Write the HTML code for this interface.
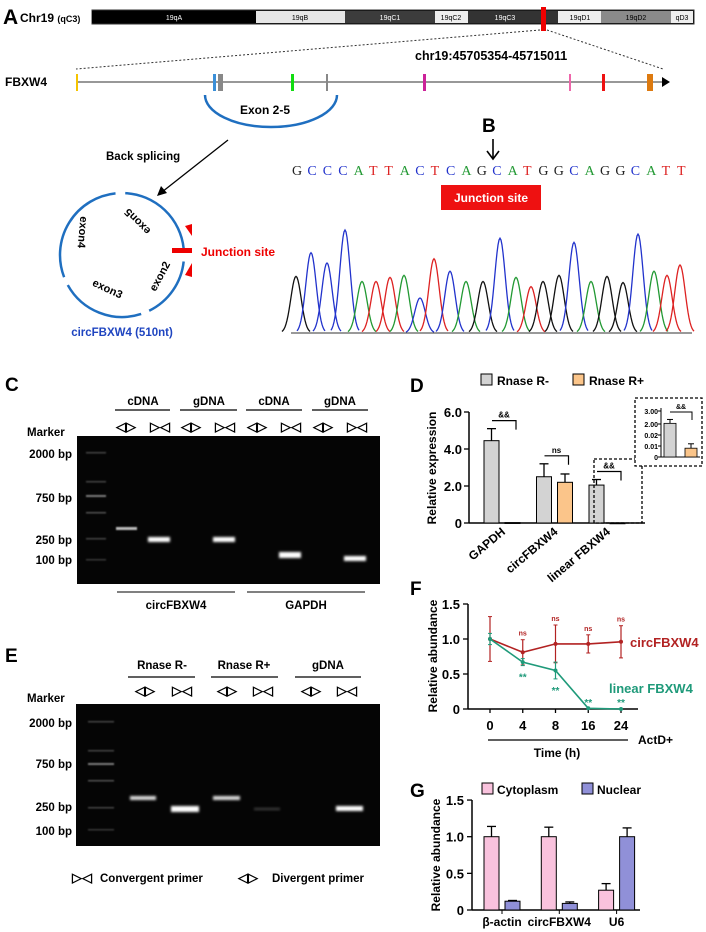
<!DOCTYPE html>
<html><head><meta charset="utf-8"><style>
html,body{margin:0;padding:0;background:#fff}
svg{display:block;font-family:"Liberation Sans",Arial,sans-serif}
text{font-weight:bold}
</style></head><body>
<svg id="fig" width="706" height="932" viewBox="0 0 706 932" xmlns="http://www.w3.org/2000/svg">
<defs>
<filter id="blur1" x="-50%" y="-200%" width="200%" height="500%"><feGaussianBlur stdDeviation="1.2"/></filter>
<filter id="blur2" x="-50%" y="-200%" width="200%" height="500%"><feGaussianBlur stdDeviation="0.8"/></filter>
</defs>

<!-- Panel A -->
<g>
<text x="3" y="24" font-size="21">A</text>
<text x="20" y="22" font-size="12">Chr19 <tspan font-size="9">(qC3)</tspan></text>
<g font-size="7" font-weight="normal">
<rect x="92" y="10" width="602" height="14" fill="#000" stroke="#333"/>
<rect x="92" y="11" width="164" height="12" fill="#000"/><text x="174" y="20" fill="#fff" text-anchor="middle" style="font-weight:normal">19qA</text>
<rect x="256" y="11" width="89" height="12" fill="#e6e6e6"/><text x="300" y="20" text-anchor="middle" style="font-weight:normal">19qB</text>
<rect x="345" y="11" width="90" height="12" fill="#3c3c3c"/><text x="390" y="20" fill="#fff" text-anchor="middle" style="font-weight:normal">19qC1</text>
<rect x="435" y="11" width="33" height="12" fill="#eee"/><text x="451" y="20" text-anchor="middle" style="font-weight:normal">19qC2</text>
<rect x="468" y="11" width="90" height="12" fill="#333"/><text x="505" y="20" fill="#fff" text-anchor="middle" style="font-weight:normal">19qC3</text>
<rect x="558" y="11" width="43" height="12" fill="#eee"/><text x="580" y="20" text-anchor="middle" style="font-weight:normal">19qD1</text>
<rect x="601" y="11" width="70" height="12" fill="#8a8a8a"/><text x="636" y="20" text-anchor="middle" style="font-weight:normal">19qD2</text>
<rect x="671" y="11" width="22" height="12" fill="#eee"/><text x="682" y="20" text-anchor="middle" style="font-weight:normal">qD3</text>
<rect x="541" y="7" width="5" height="24" fill="#e00"/>
</g>
<line x1="540" y1="30" x2="76" y2="69" stroke="#333" stroke-dasharray="2,2"/>
<line x1="547" y1="30" x2="663" y2="69" stroke="#333" stroke-dasharray="2,2"/>
<text x="415" y="60" font-size="12.5">chr19:45705354-45715011</text>
<text x="5" y="86" font-size="12">FBXW4</text>
<line x1="76" y1="82" x2="663" y2="82" stroke="#777" stroke-width="1.5"/>
<polygon points="662,77 670,82 662,87" fill="#000"/>
<g>
<rect x="76" y="74" width="2" height="17" fill="#f5c400"/>
<rect x="213" y="74" width="3" height="17" fill="#3a8fd8"/>
<rect x="218" y="74" width="5" height="17" fill="#888"/>
<rect x="291" y="74" width="3" height="17" fill="#11dd11"/>
<rect x="326" y="74" width="2" height="17" fill="#888"/>
<rect x="423" y="74" width="3" height="17" fill="#cc2299"/>
<rect x="569" y="74" width="2" height="17" fill="#ee66aa"/>
<rect x="602" y="74" width="3" height="17" fill="#ee1111"/>
<rect x="647" y="74" width="6" height="17" fill="#dd7a10"/>
</g>
<path d="M205,95 A66,32 0 0 0 337,95" fill="none" stroke="#1f6fc0" stroke-width="2.5"/>
<text x="265" y="114" font-size="12" text-anchor="middle">Exon 2-5</text>
</g>

<!-- circle -->
<g>
<text x="106" y="160" font-size="11.5">Back splicing</text>
<line x1="228" y1="140" x2="162" y2="192" stroke="#000" stroke-width="1.3"/>
<polygon points="157,196 161,186 167,193" fill="#000"/>
<g id="circArcs"></g>
<rect x="172" y="248" width="20" height="5" fill="#e00"/>
<polygon points="185,226 192,224 192,236" fill="#e00"/>
<polygon points="185,275 192,263 192,277" fill="#e00"/>
<text x="201" y="256" font-size="12" fill="#e00">Junction site</text>
<text font-size="11" transform="translate(140,219) rotate(-135)" text-anchor="middle">exon5</text>
<text font-size="11" transform="translate(79,232) rotate(95)" text-anchor="middle">exon4</text>
<text font-size="11" transform="translate(106,292) rotate(25)" text-anchor="middle">exon3</text>
<text font-size="11" transform="translate(163,278) rotate(-62)" text-anchor="middle">exon2</text>
<text x="122" y="336" font-size="11.5" fill="#1f45c0" text-anchor="middle">circFBXW4 (510nt)</text>
</g>

<!-- Panel B -->
<g>
<text x="482" y="132" font-size="19">B</text>
<line x1="493" y1="139" x2="493" y2="158" stroke="#000" stroke-width="1.6"/>
<path d="M487,151 L493,159 L499,151" fill="none" stroke="#000" stroke-width="1.6"/>
<text id="seq" y="175" font-size="14" style="font-family:'Liberation Serif',serif;font-weight:normal"></text>
<rect x="441" y="185" width="100" height="25" fill="#ee1111"/>
<text x="491" y="202" font-size="12" fill="#fff" text-anchor="middle">Junction site</text>
<g id="chromat"></g>
</g>

<!-- Panel C -->
<g>
<text x="5" y="391" font-size="19">C</text>
<g font-size="11.5" text-anchor="middle">
<text x="143" y="405">cDNA</text><text x="209" y="405">gDNA</text><text x="274" y="405">cDNA</text><text x="340" y="405">gDNA</text>
</g>
<g stroke="#000" stroke-width="1.2">
<line x1="115" y1="410" x2="170" y2="410"/><line x1="180" y1="410" x2="237" y2="410"/><line x1="246" y1="410" x2="302" y2="410"/><line x1="312" y1="410" x2="368" y2="410"/>
</g>
<g font-size="13" text-anchor="middle">
<text x="126" y="431">◁▷</text><text x="160" y="431">▷◁</text><text x="191" y="431">◁▷</text><text x="225" y="431">▷◁</text><text x="257" y="431">◁▷</text><text x="291" y="431">▷◁</text><text x="323" y="431">◁▷</text><text x="357" y="431">▷◁</text>
</g>
<text x="27" y="436" font-size="11.5">Marker</text>
<g font-size="11.5" text-anchor="end">
<text x="72" y="458">2000 bp</text><text x="72" y="502">750 bp</text><text x="72" y="544">250 bp</text><text x="72" y="564">100 bp</text>
</g>
<rect x="77" y="436" width="303" height="148" fill="#050505"/>
<g fill="#888" filter="url(#blur2)">
<rect x="86" y="452" width="20" height="1.5" opacity=".5"/><rect x="86" y="481" width="20" height="1.5" opacity=".5"/><rect x="86" y="495" width="20" height="2" opacity=".9"/><rect x="86" y="512" width="20" height="1.5" opacity=".6"/><rect x="86" y="538" width="20" height="1.5" opacity=".5"/><rect x="86" y="559" width="20" height="1.5" opacity=".4"/>
</g>
<g fill="#fff">
<rect x="116" y="527" width="21" height="3" fill="#bbb" filter="url(#blur2)"/>
<rect x="148" y="537" width="22" height="5" filter="url(#blur1)"/>
<rect x="213" y="537" width="22" height="5" filter="url(#blur1)"/>
<rect x="279" y="552" width="22" height="6" filter="url(#blur1)"/>
<rect x="344" y="556" width="22" height="5" filter="url(#blur1)"/>
</g>
<line x1="117" y1="592" x2="235" y2="592" stroke="#000"/><line x1="247" y1="592" x2="365" y2="592" stroke="#000"/>
<text x="176" y="609" font-size="11.5" text-anchor="middle">circFBXW4</text>
<text x="306" y="609" font-size="11.5" text-anchor="middle">GAPDH</text>
</g>

<!-- Panel E -->
<g>
<text x="5" y="662" font-size="19">E</text>
<g font-size="11.5" text-anchor="middle">
<text x="162" y="669">Rnase R-</text><text x="244" y="669">Rnase R+</text><text x="328" y="669">gDNA</text>
</g>
<g stroke="#000" stroke-width="1.2">
<line x1="128" y1="677" x2="195" y2="677"/><line x1="211" y1="677" x2="278" y2="677"/><line x1="295" y1="677" x2="361" y2="677"/>
</g>
<g font-size="13" text-anchor="middle">
<text x="145" y="695">◁▷</text><text x="182" y="695">▷◁</text><text x="227" y="695">◁▷</text><text x="263" y="695">▷◁</text><text x="311" y="695">◁▷</text><text x="347" y="695">▷◁</text>
</g>
<text x="27" y="702" font-size="11.5">Marker</text>
<g font-size="11.5" text-anchor="end">
<text x="72" y="727">2000 bp</text><text x="72" y="768">750 bp</text><text x="72" y="811">250 bp</text><text x="72" y="835">100 bp</text>
</g>
<rect x="76" y="704" width="304" height="142" fill="#050505"/>
<g fill="#888" filter="url(#blur2)">
<rect x="88" y="721" width="26" height="1.5" opacity=".5"/><rect x="88" y="750" width="26" height="1.5" opacity=".5"/><rect x="88" y="763" width="26" height="2" opacity=".9"/><rect x="88" y="780" width="26" height="1.5" opacity=".6"/><rect x="88" y="807" width="26" height="1.5" opacity=".5"/><rect x="88" y="829" width="26" height="1.5" opacity=".4"/>
</g>
<g fill="#fff">
<rect x="130" y="796" width="26" height="4" fill="#ddd" filter="url(#blur1)"/>
<rect x="171" y="806" width="28" height="6" filter="url(#blur1)"/>
<rect x="213" y="796" width="27" height="4" fill="#ddd" filter="url(#blur1)"/>
<rect x="254" y="808" width="26" height="2" fill="#444" filter="url(#blur1)"/>
<rect x="336" y="806" width="27" height="5" filter="url(#blur1)"/>
</g>
<text x="72" y="882" font-size="13">▷◁</text><text x="100" y="882" font-size="11.5">Convergent primer</text>
<text x="238" y="882" font-size="13">◁▷</text><text x="272" y="882" font-size="11.5">Divergent primer</text>
</g>

<!-- Panel D -->
<g id="chartD">
<text x="410" y="392" font-size="19">D</text>
<rect x="481" y="374" width="11" height="11" fill="#d3d3d3" stroke="#000"/>
<text x="497" y="385" font-size="12">Rnase R-</text>
<rect x="573" y="374" width="11" height="11" fill="#fbc58a" stroke="#000"/>
<text x="589" y="385" font-size="12">Rnase R+</text>
<text transform="translate(436,468) rotate(-90)" font-size="12" text-anchor="middle">Relative expression</text>
</g>

<!-- Panel F -->
<g id="chartF">
<text x="410" y="595" font-size="19">F</text>
<text transform="translate(437,656) rotate(-90)" font-size="12" text-anchor="middle">Relative abundance</text>
<line x1="488" y1="740" x2="628" y2="740" stroke="#000" stroke-width="1.3"/>
<text x="638" y="744" font-size="12">ActD+</text>
<text x="557" y="757" font-size="12" text-anchor="middle">Time (h)</text>
</g>

<!-- Panel G -->
<g id="chartG">
<text x="410" y="797" font-size="19">G</text>
<rect x="482" y="783" width="11" height="11" fill="#f9c2dd" stroke="#000"/>
<text x="497" y="794" font-size="12">Cytoplasm</text>
<rect x="582" y="783" width="11" height="11" fill="#9090d8" stroke="#000"/>
<text x="597" y="794" font-size="12">Nuclear</text>
<text transform="translate(440,855) rotate(-90)" font-size="12" text-anchor="middle">Relative abundance</text>
</g>
</svg>

<script>
const NS='http://www.w3.org/2000/svg';
function mk(parent,tag,attrs,txt){const e=document.createElementNS(NS,tag);for(const k in attrs)e.setAttribute(k,attrs[k]);if(txt!==undefined)e.textContent=txt;parent.appendChild(e);return e;}

// ===== circle arcs =====
const circ=document.getElementById('circArcs');
const arcSpans=[[6,64],[72,151],[159,264],[273,354]];
arcSpans.forEach(s=>{
  const cx=122,cy=255,r=62,a0=s[0]*Math.PI/180,a1=s[1]*Math.PI/180;
  const p=mk(circ,'path',{d:`M${cx+r*Math.cos(a0)},${cy+r*Math.sin(a0)} A${r},${r} 0 0 1 ${cx+r*Math.cos(a1)},${cy+r*Math.sin(a1)}`,fill:'none',stroke:'#1f6fc0','stroke-width':2.5});
  
  
});

// ===== sequence & chromatogram =====
const seqStr='GCCCATTACTCAGCATGGCAGGCATT';
const baseColor={G:'#222',C:'#2233cc',A:'#229933',T:'#dd2222'};
const seqEl=document.getElementById('seq');
for(let i=0;i<seqStr.length;i++){
  mk(seqEl,'tspan',{x:292+i*15.4,fill:baseColor[seqStr[i]]},seqStr[i]);
}
const peakBase=['G','C','C','C','A','T','T','A','C','T','C','A','G','C','A','T','G','G','C','A','G','G','C','A','T','T'];
const peakX=[296,311,327,345,362,376,390,404,420,434,450,466,483,500,516,531,543,559,574,591,607,623,638,654,667,680];
const peakH=[0.55,0.78,0.68,1.0,0.5,0.5,0.54,0.56,0.34,0.72,0.6,0.5,0.5,0.92,0.54,0.45,0.5,0.56,0.88,0.5,0.55,0.49,0.96,0.6,0.56,0.66];
const chrom=document.getElementById('chromat');
const baseY=333, fullH=103;
mk(chrom,'line',{x1:291,y1:baseY,x2:692,y2:baseY,stroke:'#333','stroke-width':1});
peakX.forEach((px,i)=>{
  const h=peakH[i]*fullH, w=5.2;
  let d='';
  for(let k=-14;k<=14;k++){const x=px+k;const y=baseY-h*Math.exp(-(k*k)/(2*w*w));d+=(k===-14?'M':'L')+x+','+y.toFixed(1)+' ';}
  const p=mk(chrom,'path',{d:d,fill:'none',stroke:baseColor[peakBase[i]].replace('#222','#111'),'stroke-width':1.3});
  
  
});

// ===== Panel D =====
const dCats=['GAPDH','circFBXW4','linear FBXW4'];
const dMinus=[4.45,2.5,2.05];
const dMinusErr=[0.65,0.7,0.3];
const dPlus=[0.02,2.2,0.004];
const dPlusErr=[0,0.45,0];
const dTicks=[0,2,4,6];
const dTickLabels=['0','2.0','4.0','6.0'];
const dSig=['&&','ns','&&'];
(function(){
  const g=document.getElementById('chartD');
  const y=v=>523-v*(111/6), xc=i=>502+i*52.5;
  mk(g,'line',{x1:469,y1:412,x2:469,y2:523,stroke:'#000','stroke-width':1.5});
  mk(g,'line',{x1:469,y1:523,x2:645,y2:523,stroke:'#000','stroke-width':1.5});
  dTicks.forEach((t,i)=>{
    mk(g,'line',{x1:464,y1:y(t),x2:469,y2:y(t),stroke:'#000','stroke-width':1.3});
    const l=mk(g,'text',{x:462,y:y(t)+5,'font-size':13,'text-anchor':'end'},dTickLabels[i]);
    
    
  });
  dCats.forEach((c,i)=>{
    const cx=xc(i);
    [[dMinus,dMinusErr,'#d3d3d3',-18],[dPlus,dPlusErr,'#fbc58a',3]].forEach(s=>{
      const v=s[0][i],e=s[1][i],x0=cx+s[3];
      if(e>0)mk(g,'line',{x1:x0+7.5,y1:y(v),x2:x0+7.5,y2:y(v+e),stroke:'#000','stroke-width':1.3});
      if(e>0)mk(g,'line',{x1:x0+3,y1:y(v+e),x2:x0+12,y2:y(v+e),stroke:'#000','stroke-width':1.3});
      const b=mk(g,'rect',{x:x0,y:y(v),width:15,height:Math.max(0.8,523-y(v)),fill:s[2],stroke:'#000','stroke-width':1});
      
      
    });
    const top=y(Math.max(dMinus[i]+dMinusErr[i],dPlus[i]+dPlusErr[i]))-8;
    mk(g,'path',{d:`M${cx-10},${top} L${cx+14},${top} L${cx+14},${top+9}`,fill:'none',stroke:'#000','stroke-width':1.2});
    mk(g,'text',{x:cx+2,y:top-3,'font-size':8,'text-anchor':'middle'},dSig[i]);
    const xl=mk(g,'text',{transform:`translate(${cx+4},${533}) rotate(-40)`,'font-size':12,'text-anchor':'end'},c);
    
    
  });
  mk(g,'rect',{x:594,y:459,width:48,height:64,fill:'none',stroke:'#000','stroke-dasharray':'3,2','stroke-width':1.3});
  mk(g,'rect',{x:635,y:398,width:67,height:68,fill:'#fff',stroke:'#000','stroke-dasharray':'3,2','stroke-width':1.3});
})();
const insetVals=[2.05,0.008];
const insetErr=[0.3,0.004];
const insetTicks=['3.00','2.00','0.02','0.01','0'];
(function(){
  const g=document.getElementById('chartD');
  const yU=v=>424-(v-2)*13, yL=v=>457-v*1100, yy=v=>v>=1?yU(v):yL(v);
  const ty=[411,424,435,446,457];
  mk(g,'line',{x1:661,y1:408,x2:661,y2:457,stroke:'#000'});
  mk(g,'line',{x1:661,y1:457,x2:700,y2:457,stroke:'#000'});
  insetTicks.forEach((t,i)=>{mk(g,'text',{x:658,y:ty[i]+3,'font-size':7,'text-anchor':'end'},t);mk(g,'line',{x1:658,y1:ty[i],x2:661,y2:ty[i],stroke:'#000'});});
  const cols=['#d3d3d3','#fbc58a'],xs=[664,685];
  insetVals.forEach((v,i)=>{
    const top=yy(v),et=yy(v+insetErr[i]);
    mk(g,'line',{x1:xs[i]+6,y1:top,x2:xs[i]+6,y2:et,stroke:'#000'});
    mk(g,'line',{x1:xs[i]+3,y1:et,x2:xs[i]+9,y2:et,stroke:'#000'});
    const b=mk(g,'rect',{x:xs[i],y:top,width:12,height:457-top,fill:cols[i],stroke:'#000','stroke-width':0.8});
    
    
  });
  mk(g,'path',{d:'M670,412 L692,412 L692,420',fill:'none',stroke:'#000'});
  mk(g,'text',{x:681,y:409,'font-size':7,'text-anchor':'middle'},'&&');
})();

// ===== Panel F =====
const fTimes=['0','4','8','16','24'];
const fCirc=[1.0,0.81,0.93,0.93,0.96];
const fCircErr=[0.32,0.18,0.27,0.13,0.23];
const fLin=[1.0,0.67,0.55,0.01,0.0];
const fLinErr=[0.08,0.05,0.12,0,0];
const fTicks=[0,0.5,1.0,1.5];
const fTickLabels=['0','0.5','1.0','1.5'];
(function(){
  const g=document.getElementById('chartF');
  const y=v=>709-v*70, x=i=>490+i*32.75;
  mk(g,'line',{x1:468,y1:604,x2:468,y2:709,stroke:'#000','stroke-width':1.5});
  mk(g,'line',{x1:468,y1:709,x2:638,y2:709,stroke:'#000','stroke-width':1.5});
  fTicks.forEach((t,i)=>{
    mk(g,'line',{x1:463,y1:y(t),x2:468,y2:y(t),stroke:'#000','stroke-width':1.3});
    const l=mk(g,'text',{x:460,y:y(t)+5,'font-size':13,'text-anchor':'end'},fTickLabels[i]);
    
    
  });
  fTimes.forEach((t,i)=>{
    mk(g,'line',{x1:x(i),y1:709,x2:x(i),y2:713,stroke:'#000','stroke-width':1.3});
    const l=mk(g,'text',{x:x(i),y:730,'font-size':13,'text-anchor':'middle'},t);
    
    
  });
  [[fCirc,fCircErr,'#b22222'],[fLin,fLinErr,'#1f9a7a']].forEach(s=>{
    const pts=s[0].map((v,i)=>x(i)+','+y(v)).join(' ');
    const pl=mk(g,'polyline',{points:pts,fill:'none',stroke:s[2],'stroke-width':1.6});
    
    
    s[0].forEach((v,i)=>{
      const e=s[1][i];
      if(e>0){mk(g,'line',{x1:x(i),y1:y(v-e),x2:x(i),y2:y(v+e),stroke:s[2],'stroke-width':1.2});
        mk(g,'line',{x1:x(i)-2,y1:y(v-e),x2:x(i)+2,y2:y(v-e),stroke:s[2]});
        mk(g,'line',{x1:x(i)-2,y1:y(v+e),x2:x(i)+2,y2:y(v+e),stroke:s[2]});}
      const c=mk(g,'circle',{cx:x(i),cy:y(v),r:2,fill:s[2]});
      
      
    });
  });
  for(let i=1;i<fTimes.length;i++){
    mk(g,'text',{x:x(i),y:y(fCirc[i]+fCircErr[i])-4,'font-size':7,fill:'#b22222','text-anchor':'middle'},'ns');
    mk(g,'text',{x:x(i),y:Math.min(y(fLin[i]-fLinErr[i])+15,706),'font-size':10,fill:'#1f9a7a','text-anchor':'middle'},'**');
  }
  const l1=mk(g,'text',{x:630,y:647,'font-size':13,fill:'#b22222'},'circFBXW4');
  
  
  const l2=mk(g,'text',{x:609,y:693,'font-size':13,fill:'#1f9a7a'},'linear FBXW4');
  
  
})();

// ===== Panel G =====
const gCats=['β-actin','circFBXW4','U6'];
const gCyto=[1.0,1.0,0.27];
const gCytoErr=[0.14,0.13,0.09];
const gNuc=[0.12,0.09,1.0];
const gNucErr=[0.01,0.02,0.12];
const gTicks=[0,0.5,1.0,1.5];
const gTickLabels=['0','0.5','1.0','1.5'];
(function(){
  const g=document.getElementById('chartG');
  const y=v=>910-v*73.3, xc=i=>502+i*57.3;
  mk(g,'line',{x1:472,y1:800,x2:472,y2:910,stroke:'#000','stroke-width':1.5});
  mk(g,'line',{x1:472,y1:910,x2:640,y2:910,stroke:'#000','stroke-width':1.5});
  gTicks.forEach((t,i)=>{
    mk(g,'line',{x1:467,y1:y(t),x2:472,y2:y(t),stroke:'#000','stroke-width':1.3});
    const l=mk(g,'text',{x:464,y:y(t)+5,'font-size':13,'text-anchor':'end'},gTickLabels[i]);
    
    
  });
  gCats.forEach((c,i)=>{
    const cx=xc(i);
    [[gCyto,gCytoErr,'#f9c2dd',-18],[gNuc,gNucErr,'#9090d8',3]].forEach(s=>{
      const v=s[0][i],e=s[1][i],x0=cx+s[3];
      mk(g,'line',{x1:x0+7.5,y1:y(v),x2:x0+7.5,y2:y(v+e),stroke:'#000','stroke-width':1.3});
      mk(g,'line',{x1:x0+3,y1:y(v+e),x2:x0+12,y2:y(v+e),stroke:'#000','stroke-width':1.3});
      const b=mk(g,'rect',{x:x0,y:y(v),width:15,height:910-y(v),fill:s[2],stroke:'#000','stroke-width':1});
      
      
    });
    mk(g,'line',{x1:cx,y1:910,x2:cx,y2:914,stroke:'#000'});
    const l=mk(g,'text',{x:cx,y:926,'font-size':12,'text-anchor':'middle'},c);
    
    
  });
})();
</script>
</body></html>
